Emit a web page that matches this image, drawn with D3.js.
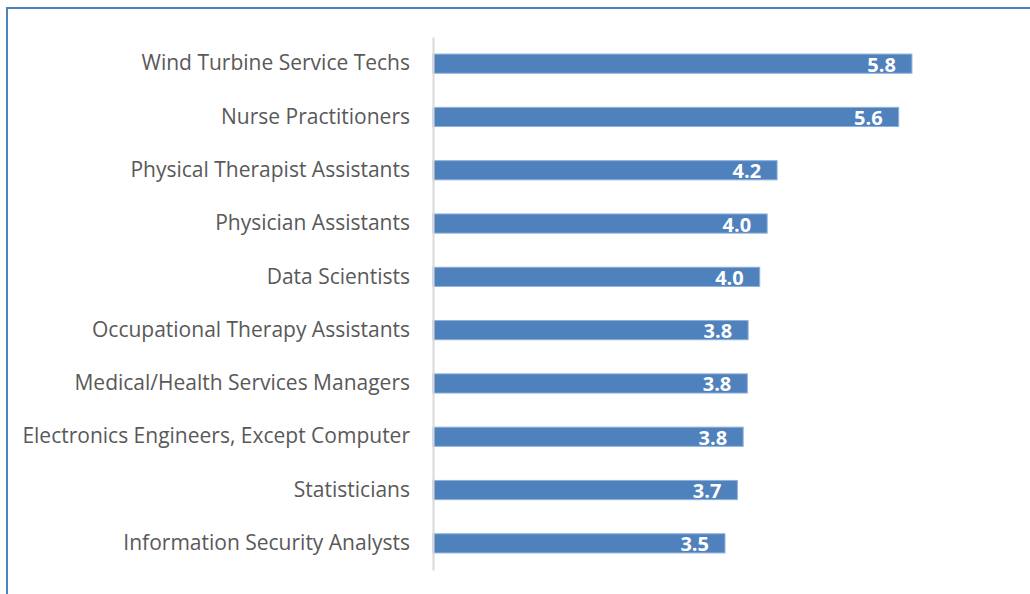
<!DOCTYPE html>
<html>
<head>
<meta charset="utf-8">
<script src="https://d3js.org/d3.v7.min.js"></script>
<style>
body {
  margin: 0;
  background: #fff;
}
svg {
  display: block;
}
.cat text {
  font-family: "Open Sans", sans-serif;
  font-size: 21px;
  fill: #595959;
}
.val {
  font-family: "Open Sans", sans-serif;
  font-size: 20px;
  font-weight: bold;
  fill: #fff;
}
</style>
</head>
<body>
<svg width="1030" height="594"></svg>
<script>

// occupations, top to bottom
var jobs = [
  "Wind Turbine Service Techs",
  "Nurse Practitioners",
  "Physical Therapist Assistants",
  "Physician Assistants",
  "Data Scientists",
  "Occupational Therapy Assistants",
  "Medical/Health Services Managers",
  "Electronics Engineers, Except Computer",
  "Statisticians",
  "Information Security Analysts"
];

// values (labels show them rounded)
var growth = [5.79, 5.63, 4.16, 4.04, 3.95, 3.81, 3.80, 3.75, 3.68, 3.53];

var svg = d3.select("svg");

// frame
svg.append("path")
  .attr("d", "M7,594 V8 H1030")
  .attr("fill", "none")
  .attr("stroke", "#4f81bd")
  .attr("stroke-width", 2);

var x = d3.scaleLinear()
  .domain([0, 7])
  .range([433, 1012]);

var y = d3.scaleBand()
  .domain(jobs)
  .range([37, 570])
  .paddingInner(0.64)
  .paddingOuter(0.32);

var rows = jobs.map(function(d, i) { return {job: d, v: growth[i]}; });

svg.selectAll(".bar")
  .data(rows)
  .enter().append("rect")
  .attr("class", "bar")
  .attr("x", x(0))
  .attr("y", d => y(d.job))
  .attr("width", d => x(d.v) - x(0))
  .attr("height", y.bandwidth())
  .attr("fill", "#4f81bd")
  .attr("stroke", "#8eb1dc")
  .attr("stroke-width", 1);

svg.selectAll(".val")
  .data(rows)
  .enter().append("text")
  .attr("class", "val")
  .attr("x", d => x(d.v) - 16)
  .attr("y", d => y(d.job) + y.bandwidth() / 2 + 1)
  .attr("dy", "0.35em")
  .attr("text-anchor", "end")
  .text(d => d3.format(".1f")(d.v));

// category axis
var yAxis = svg.append("g")
  .attr("class", "cat")
  .attr("transform", "translate(" + x(0) + ",0)")
  .call(d3.axisLeft(y).tickSize(0).tickPadding(23));

yAxis.select(".domain")
  .attr("stroke", "#d9d9d9")
  .attr("stroke-width", 2);

</script>
</body>
</html>
